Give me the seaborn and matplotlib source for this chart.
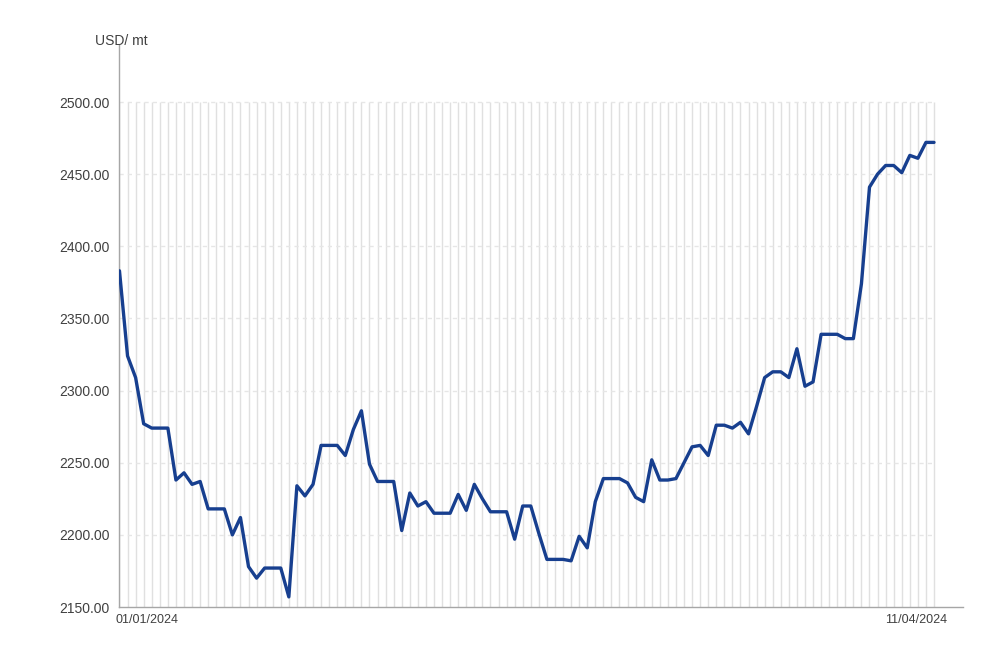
import matplotlib
matplotlib.use("Agg")
import matplotlib.pyplot as plt
import matplotlib.transforms as mtransforms
import seaborn as sns
import pandas as pd

# Daily price series, 01/01/2024 - 11/04/2024 (USD per metric ton)
start_date = "2024-01-01"
end_date = "2024-04-11"
prices = [
    2383, 2324, 2309, 2277, 2274, 2274, 2274, 2238, 2243, 2235,
    2237, 2218, 2218, 2218, 2200, 2212, 2178, 2170, 2177, 2177,
    2177, 2157, 2234, 2227, 2235, 2262, 2262, 2262, 2255, 2273,
    2286, 2249, 2237, 2237, 2237, 2203, 2229, 2220, 2223, 2215,
    2215, 2215, 2228, 2217, 2235, 2225, 2216, 2216, 2216, 2197,
    2220, 2220, 2201, 2183, 2183, 2183, 2182, 2199, 2191, 2223,
    2239, 2239, 2239, 2236, 2226, 2223, 2252, 2238, 2238, 2239,
    2250, 2261, 2262, 2255, 2276, 2276, 2274, 2278, 2270, 2289,
    2309, 2313, 2313, 2309, 2329, 2303, 2306, 2339, 2339, 2339,
    2336, 2336, 2374, 2441, 2450, 2456, 2456, 2451, 2463, 2461,
    2472, 2472,
]
y_ticks = [2150, 2200, 2250, 2300, 2350, 2400, 2450, 2500]
x_labels = ["01/01/2024", "11/04/2024"]
unit_label = "USD/ mt"

dates = pd.date_range(start_date, end_date, freq="D")
df = pd.DataFrame({"date": dates, "price": prices})

sns.set_theme(style="white")
plt.rcParams["font.family"] = ["Liberation Sans", "DejaVu Sans"]

fig = plt.figure(figsize=(9.81, 6.58), dpi=100)
ax = fig.add_axes([0.1213, 0.0775, 0.8604, 0.8541])

# vertical grid, one line per day, up to the top tick
ax.vlines(df["date"], y_ticks[0], y_ticks[-1], color="#e0e0e0", linewidth=1.0, zorder=1)
# faint dashed horizontal grid, across the data range
ax.hlines(y_ticks[1:], df["date"].iloc[0], df["date"].iloc[-1], color="#e6e6e6",
          linewidth=1.0, linestyles=(0, (3, 3)), zorder=1)

sns.lineplot(data=df, x="date", y="price", ax=ax, color="#173f8f",
             linewidth=2.4, zorder=3)
for ln in ax.get_lines():
    ln.set_solid_joinstyle("round")
    ln.set_solid_capstyle("round")

ax.set_ylim(2150, 2539.5)
ax.set_xlim(dates[0] - pd.Timedelta(days=0.06), dates[0] + pd.Timedelta(days=104.6))

ax.set_yticks(y_ticks)
ax.set_yticklabels([f"{v:.2f}" for v in y_ticks], fontsize=10, color="#404040")
ax.set_xticks([dates[0], dates[-1]])
ax.set_xticklabels(x_labels, fontsize=9, color="#404040")
ax.tick_params(axis="both", length=0)
ax.tick_params(axis="y", pad=7)
ax.tick_params(axis="x", pad=5)

# align the two date labels like the original
lbls = ax.get_xticklabels()
lbls[0].set_horizontalalignment("left")
lbls[0].set_transform(lbls[0].get_transform() + mtransforms.ScaledTranslation(-4 / 100, 0, fig.dpi_scale_trans))
lbls[1].set_horizontalalignment("right")
lbls[1].set_transform(lbls[1].get_transform() + mtransforms.ScaledTranslation(13 / 100, 0, fig.dpi_scale_trans))

ax.set_xlabel("")
ax.set_ylabel("")

for side in ["top", "right"]:
    ax.spines[side].set_visible(False)
for side in ["left", "bottom"]:
    ax.spines[side].set_color("#a6a6a6")
    ax.spines[side].set_linewidth(1.0)

fig.text(95 / 981, 1 - 41 / 658, unit_label, fontsize=10, color="#404040",
         ha="left", va="center")

fig.savefig("out.png", dpi=100)
